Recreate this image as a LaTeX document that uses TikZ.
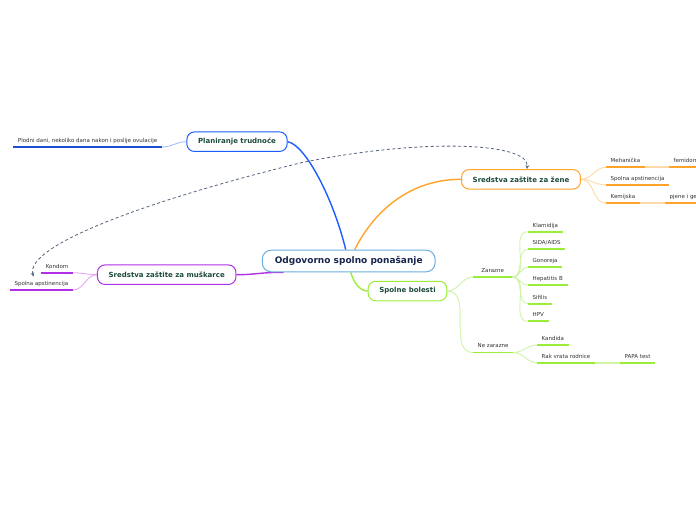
\documentclass[tikz,border=0pt]{standalone}
\usepackage{fontspec}
\setmainfont{DejaVu Sans}
\usetikzlibrary{arrows.meta,calc}
\definecolor{cblue}{HTML}{6AAEE0}
\definecolor{ctext}{HTML}{17264D}
\definecolor{btext}{HTML}{1B4A3C}
\definecolor{ltext}{HTML}{333333}
\definecolor{pblue}{HTML}{1E5CFF}
\definecolor{pblue2}{HTML}{1A4FD6}
\definecolor{lblue}{HTML}{A8C0F8}
\definecolor{porange}{HTML}{FFA329}
\definecolor{lorange}{HTML}{FDDBA8}
\definecolor{ppurple}{HTML}{B030E8}
\definecolor{lpurple}{HTML}{E2AAF5}
\definecolor{pgreen}{HTML}{9AEE3A}
\definecolor{lgreen}{HTML}{CFF5A8}
\definecolor{relc}{HTML}{56647F}
\pgfdeclarelayer{bg}
\pgfsetlayers{bg,main}
\begin{document}
\begin{tikzpicture}[x=1pt,y=-1pt,
  central/.style={draw=cblue, line width=1pt, fill=white, rounded corners=9pt,
    inner xsep=12.5pt, minimum height=21.7pt, text=ctext,
    font=\fontsize{9}{11}\selectfont\bfseries},
  branch/.style={line width=1pt, fill=white, rounded corners=7.5pt,
    inner xsep=11.2pt, minimum height=19.5pt, text=btext,
    font=\fontsize{7}{8.5}\selectfont\bfseries},
  leaf/.style={inner xsep=4.5pt, inner ysep=4.5pt, text height=4pt, text depth=0pt,
    text=ltext, font=\fontsize{5.5}{6.5}\selectfont},
  ul/.style={line width=1.8pt},
  lk/.style={line width=0.9pt},
  mainb/.style={line width=1.4pt},
  rel/.style={draw=relc, line width=0.8pt, dash pattern=on 3pt off 2.5pt,
    arrows={Stealth[length=4pt,width=3.6pt]-Stealth[length=4pt,width=3.6pt]}}
]
\useasboundingbox (0,0) rectangle (696,520);
\clip (0,0) rectangle (696,520);

% main nodes
\node[central] (c) at (348.7,261) {Odgovorno spolno ponašanje};
\node[branch, draw=pblue] (pl) at (237,141.7) {Planiranje trudnoće};
\node[branch, draw=porange] (zn) at (521,179.3) {Sredstva zaštite za žene};
\node[branch, draw=ppurple] (mu) at (166.7,274.7) {Sredstva zaštite za muškarce};
\node[branch, draw=pgreen] (sb) at (407.5,291) {Spolne bolesti};

% leaves
\node[leaf, anchor=south east] (pd) at (162,147) {Plodni dani, nekoliko dana nakon i poslije ovulacije};

\node[leaf, anchor=south west] (meh) at (606,167.3) {Mehanička};
\node[leaf, anchor=south west] (fem) at (669,167.3) {femidom};
\node[leaf, anchor=south west] (zsa) at (606,185) {Spolna apstinencija};
\node[leaf, anchor=south west] (kem) at (606,203.3) {Kemijska};
\node[leaf, anchor=south west] (pjg) at (665,203.3) {pjene i gelovi};

\node[leaf, anchor=south east] (kon) at (73,272.7) {Kondom};
\node[leaf, anchor=south east] (msa) at (73,290) {Spolna apstinencija};

\node[leaf, anchor=south west, minimum width=39pt, align=left] (zar) at (473,277) {Zarazne};
\node[leaf, anchor=south west] (nez) at (473,352.5) {Ne zarazne};
\node[leaf, anchor=south west] (kla) at (528,231.7) {Klamidija};
\node[leaf, anchor=south west] (sid) at (528,249.3) {SIDA/AIDS};
\node[leaf, anchor=south west] (gon) at (528,267.3) {Gonoreja};
\node[leaf, anchor=south west] (hep) at (528,285.3) {Hepatitis B};
\node[leaf, anchor=south west] (sif) at (528,303.7) {Sifilis};
\node[leaf, anchor=south west] (hpv) at (528,321.3) {HPV};
\node[leaf, anchor=south west] (kan) at (537,345) {Kandida};
\node[leaf, anchor=south west] (rak) at (537,362.7) {Rak vrata rodnice};
\node[leaf, anchor=south west] (pap) at (620,362.7) {PAPA test};

\begin{pgfonlayer}{bg}
\fill[white] (0,0) rectangle (696,520);
% main branches
\draw[mainb, pblue] ([xshift=-3pt]c.north) .. controls +(-12,-50) and +(18,3) .. (pl.east);
\draw[mainb, porange] ([xshift=6pt]c.north) .. controls +(20,-40) and +(-50,0) .. (zn.west);
\draw[mainb, ppurple] ([xshift=-65pt]c.south) .. controls +(-25,0) and +(20,0) .. (mu.east);
\draw[mainb, pgreen] ([xshift=2pt]c.south) .. controls +(3,10) and +(-8,0) .. (sb.west);

% Planiranje
\draw[ul, pblue2] (pd.south west) -- (pd.south east);
\draw[lk, lblue] (pd.south east) to[out=0,in=180] (pl.west);

% zene
\foreach \n in {meh,zsa,kem}{
  \draw[lk, lorange] (zn.east) to[out=0,in=180] (\n.south west);
  \draw[ul, porange] (\n.south west) -- (\n.south east);
}
\draw[ul, lorange] (meh.south east) -- (fem.south west);
\draw[ul, porange] (fem.south west) -- (fem.south east);
\draw[ul, lorange] (kem.south east) -- (pjg.south west);
\draw[ul, porange] (pjg.south west) -- (pjg.south east);

% muskarce
\foreach \n in {kon,msa}{
  \draw[lk, lpurple] (\n.south east) to[out=0,in=180] (mu.west);
  \draw[ul, ppurple] (\n.south west) -- (\n.south east);
}

% spolne bolesti
\foreach \n in {zar,nez}{
  \draw[lk, lgreen] (sb.east) to[out=0,in=180] (\n.south west);
  \draw[ul, pgreen] (\n.south west) -- (\n.south east);
}
\foreach \n in {kla,sid,gon,hep,sif,hpv}{
  \draw[lk, lgreen] (zar.south east) to[out=0,in=180] (\n.south west);
  \draw[ul, pgreen] (\n.south west) -- (\n.south east);
}
\foreach \n in {kan,rak}{
  \draw[lk, lgreen] (nez.south east) to[out=0,in=180] (\n.south west);
  \draw[ul, pgreen] (\n.south west) -- (\n.south east);
}
\draw[ul, lgreen] (rak.south east) -- (pap.south west);
\draw[ul, pgreen] (pap.south west) -- (pap.south east);
\end{pgfonlayer}

% relationship
\draw[rel] ([xshift=-8pt]msa.north) .. controls (25,245) and (150,200) .. (300,163)
  .. controls (420,138) and (530,142) .. ([xshift=6pt]zn.north);
\end{tikzpicture}
\end{document}
